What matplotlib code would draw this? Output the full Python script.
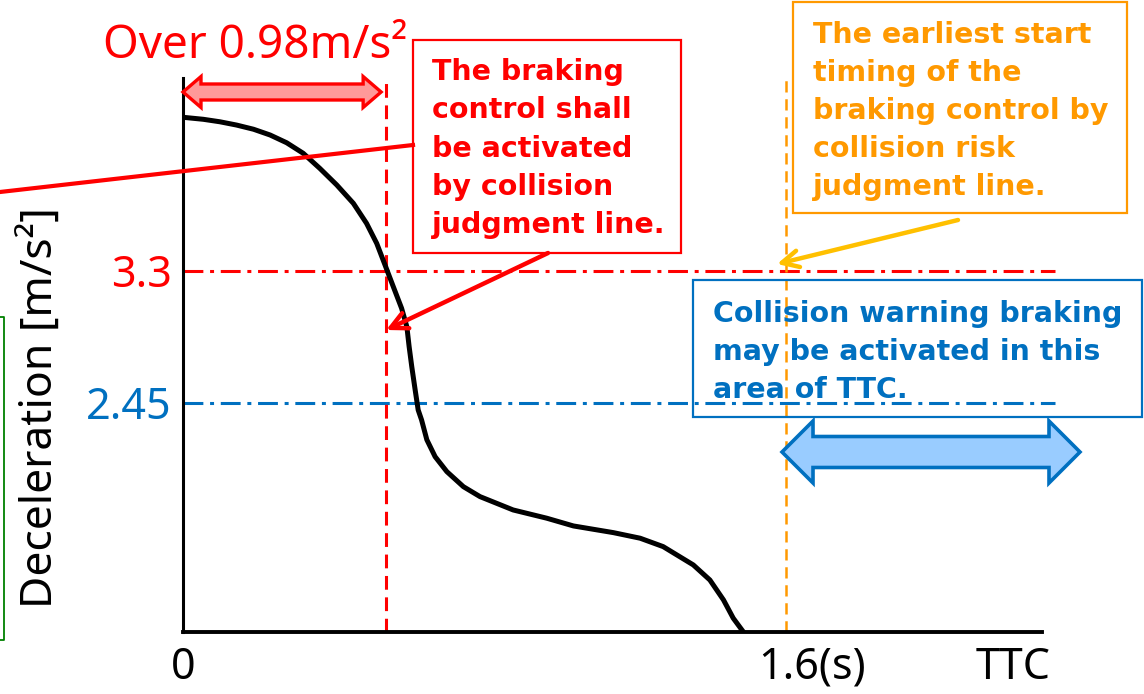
import numpy as np
import matplotlib.pyplot as plt
from matplotlib.patches import Rectangle, Polygon

plt.rcParams['font.family'] = ['Noto Sans', 'DejaVu Sans']

# deceleration profile (schematic), TTC in s, deceleration in m/s^2
ttc = [0.0, 0.054, 0.098, 0.142, 0.187, 0.231, 0.275, 0.319, 0.363, 0.408,
       0.452, 0.487, 0.514, 0.536, 0.558, 0.580, 0.594, 0.600, 0.607, 0.616,
       0.624, 0.633, 0.647, 0.669, 0.700, 0.744, 0.788, 0.876, 0.965, 1.036,
       1.142, 1.213, 1.274, 1.354, 1.398, 1.434, 1.460, 1.487]
decel = [4.29, 4.277, 4.261, 4.240, 4.213, 4.176, 4.126, 4.058, 3.961, 3.854,
         3.736, 3.607, 3.478, 3.339, 3.199, 3.060, 2.941, 2.813, 2.684, 2.534,
         2.405, 2.341, 2.213, 2.104, 2.008, 1.911, 1.847, 1.761, 1.708, 1.658,
         1.615, 1.579, 1.525, 1.407, 1.310, 1.182, 1.064, 0.975]

t_judge = 0.539       # collision judgment line
t_earliest = 1.6      # earliest start timing
t_axis_end = 2.28
t_line_end = 2.314
level_red = 3.3
level_blue = 2.45

red_lines = ['The braking', 'control shall', 'be activated', 'by collision',
             'judgment line.']
orange_lines = ['The earliest start', 'timing of the', 'braking control by',
                'collision risk', 'judgment line.']
blue_lines = ['Collision warning braking', 'may be activated in this',
              'area of TTC.']

RED = '#FF0000'
BLUE = '#0070C0'
ORANGE = '#FF9900'
YELLOW = '#FFC000'

fig = plt.figure(figsize=(11.44, 6.94), dpi=100)
ax = fig.add_axes([183 / 1144, 1 - 632 / 694, 877 / 1144, 554 / 694])
ax.set_xlim(0, 2.327)
ax.set_ylim(0.975, 4.543)

for s in ['top', 'right']:
    ax.spines[s].set_visible(False)
ax.spines['left'].set_linewidth(2.2)
ax.spines['bottom'].set_linewidth(2.8)
ax.spines['bottom'].set_bounds(0, t_axis_end)

ax.set_xticks([])
ax.set_yticks([level_red, level_blue])
ax.set_yticklabels(['3.3', '2.45'], fontsize=31)
for lbl, c in zip(ax.get_yticklabels(), [RED, BLUE]):
    lbl.set_color(c)
ax.tick_params(axis='y', length=0, pad=8)

# reference lines
ax.plot([0, t_line_end], [level_red, level_red], color=RED, lw=2.2,
        dashes=(6.5, 2.2, 1.3, 2.2), zorder=2, clip_on=False)
ax.plot([0, t_line_end], [level_blue, level_blue], color=BLUE, lw=2.2,
        dashes=(6.5, 2.2, 1.3, 2.2), zorder=2, clip_on=False)
ax.plot([t_judge, t_judge], [0.975, 4.543], color=RED, lw=2.2,
        dashes=(4.5, 2.5), zorder=2, clip_on=False)
ax.plot([t_earliest, t_earliest], [0.975, 4.543], color=ORANGE, lw=1.8,
        dashes=(4.5, 2.7), zorder=2, clip_on=False)

# the curve
ax.plot(ttc, decel, color='black', lw=3.6, zorder=4, solid_capstyle='round',
        solid_joinstyle='round')

# overlay in pixel units for annotations
ov = fig.add_axes([0, 0, 1, 1], zorder=5)
ov.set_xlim(0, 1144)
ov.set_ylim(694, 0)
ov.axis('off')


def to_px(t, v):
    return ov.transData.inverted().transform(ax.transData.transform((t, v)))


def double_arrow(x0, x1, y, shaft, head, hl, fc, ec, lw):
    verts = [(x0, y), (x0 + hl, y - head / 2), (x0 + hl, y - shaft / 2),
             (x1 - hl, y - shaft / 2), (x1 - hl, y - head / 2), (x1, y),
             (x1 - hl, y + head / 2), (x1 - hl, y + shaft / 2),
             (x0 + hl, y + shaft / 2), (x0 + hl, y + head / 2)]
    ov.add_patch(Polygon(verts, closed=True, fc=fc, ec=ec, lw=lw,
                         joinstyle='miter'))


def box_text(lines, x, y0, step, color):
    for i, line in enumerate(lines):
        ov.text(x, y0 + i * step, line, color=color, fontsize=20.5,
                fontweight='bold', family='DejaVu Sans', va='baseline',
                ha='left')


x0_px = to_px(0, 1)[0]
xj_px = to_px(t_judge, 1)[0]
xe_px = to_px(t_earliest, 1)[0]
double_arrow(x0_px, xj_px - 5, 92, 16, 31, 18, '#FF9999', RED, 2.4)
double_arrow(xe_px - 4, 1080, 452, 31, 62, 31, '#99CCFF', BLUE, 2.6)

# labels
ov.text(103, 58, 'Over 0.98m/s²', color=RED, fontsize=33, va='baseline')
ov.text(42, 408, 'Deceleration [m/s²]', rotation=90, fontsize=32,
        ha='center', va='center')
ov.text(x0_px, 668, '0', fontsize=31, ha='center', va='center')
ov.text(812, 668, '1.6(s)', fontsize=31, ha='center', va='center')
ov.text(1013, 668, 'TTC', fontsize=31, ha='center', va='center')

# red box
ov.add_patch(Rectangle((413, 40), 268, 213, fill=False, ec=RED, lw=1.6))
box_text(red_lines, 432, 80, 38.3, RED)
ov.plot([0, 413], [192, 145], color=RED, lw=3)
ov.annotate('', xy=(xj_px, 330), xytext=(548, 253),
            arrowprops=dict(arrowstyle='->', color=RED, lw=3.2,
                            mutation_scale=30, shrinkA=0, shrinkB=0))

# orange box
ov.add_patch(Rectangle((793, 2), 334, 211, fill=False, ec=ORANGE, lw=1.6))
box_text(orange_lines, 813, 43, 38, ORANGE)
ov.annotate('', xy=(777, 264), xytext=(958, 220),
            arrowprops=dict(arrowstyle='->', color=YELLOW, lw=3.2,
                            mutation_scale=30, shrinkA=0, shrinkB=0))

# blue box
ov.add_patch(Rectangle((693, 280), 449, 137, fill=False, ec=BLUE, lw=1.6))
box_text(blue_lines, 713, 322, 38, BLUE)

# green box edge at left
ov.plot([0, 4, 4, 0], [317, 317, 640, 640], color='#008000', lw=1.3)

fig.savefig('out.png', dpi=100)
